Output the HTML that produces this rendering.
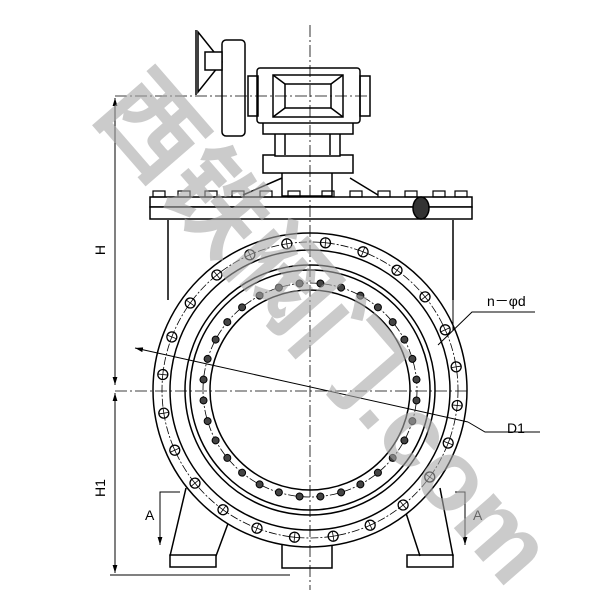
<!DOCTYPE html>
<html><head><meta charset="utf-8"><style>html,body{margin:0;padding:0;background:#fff}svg{display:block}</style></head>
<body>
<svg width="600" height="600" viewBox="0 0 600 600" xmlns="http://www.w3.org/2000/svg">
<defs>
<marker id="ar" viewBox="0 0 10 10" refX="10" refY="5" markerWidth="8" markerHeight="8" orient="auto-start-reverse"><path d="M0,2 L10,5 L0,8 z" fill="#000"/></marker>
<g id="ob"><circle cx="458" cy="390" r="5" fill="#fff" stroke="#000" stroke-width="1.3"/><path d="M453,390 H463 M458,385 V395" stroke="#000" stroke-width="0.8"/></g>
<circle id="ib" cx="417" cy="390" r="3.5" fill="#444" stroke="#000" stroke-width="1"/>
</defs>
<g fill="none" stroke="#000" stroke-width="1.5">
<path d="M168,220 V300 M453,220 V300"/>
<rect x="150" y="197" width="322" height="10" fill="#fff"/>
<rect x="150" y="207" width="322" height="12" fill="#fff"/>
<path d="M243,195 L282,178 M378,195 L350,178"/>
<rect x="282" y="170" width="50" height="26" fill="#fff"/>
<rect x="263" y="155" width="90" height="18" fill="#fff"/>
<rect x="275" y="122" width="65" height="34" fill="#fff"/>
<path d="M285,122 V155 M330,122 V155"/>
<rect x="263" y="122" width="90" height="12" fill="#fff"/>
<rect x="257" y="68" width="103" height="55" rx="3" fill="#fff"/>
<rect x="248" y="76" width="10" height="40"/>
<rect x="360" y="76" width="10" height="40"/>
<rect x="273" y="75" width="70" height="42"/>
<rect x="285" y="84" width="46" height="24"/>
<path d="M273,75 L285,84 M343,75 L331,84 M273,117 L285,108 M343,117 L331,108"/>
<rect x="222" y="40" width="23" height="96" rx="4" fill="#fff"/>
<path d="M198,32 L222,62 L198,92 Z M196,30 V95"/>
<rect x="205" y="52" width="17" height="18" fill="#fff"/>
<g stroke-width="1.2">
<rect x="153" y="191" width="12" height="6"/><rect x="178" y="191" width="12" height="6"/><rect x="205" y="191" width="12" height="6"/><rect x="232" y="191" width="12" height="6"/><rect x="260" y="191" width="12" height="6"/><rect x="288" y="191" width="12" height="6"/><rect x="322" y="191" width="12" height="6"/><rect x="350" y="191" width="12" height="6"/><rect x="378" y="191" width="12" height="6"/><rect x="405" y="191" width="12" height="6"/><rect x="433" y="191" width="12" height="6"/><rect x="455" y="191" width="12" height="6"/>
</g>
<ellipse cx="421" cy="208" rx="8" ry="11" fill="#333"/>
<path d="M186,488 L170,556 M233,510 L216,556 M405,510 L420,556 M440,488 L453,556"/>
<rect x="170" y="555" width="46" height="12"/><rect x="407" y="555" width="46" height="12"/>
<rect x="282" y="544" width="50" height="24"/>
<circle cx="310" cy="390" r="157" fill="#fff"/>
<circle cx="310" cy="390" r="140"/>
<circle cx="310" cy="390" r="125"/>
<circle cx="310" cy="390" r="120"/>
<circle cx="310" cy="390" r="100"/>
</g>
<circle cx="310" cy="390" r="148" fill="none" stroke="#000" stroke-width="0.8" stroke-dasharray="8,2,2,2"/>
<circle cx="310" cy="390" r="107" fill="none" stroke="#000" stroke-width="0.8" stroke-dasharray="8,2,2,2"/>
<g>
<use href="#ob" transform="rotate(6 310 390)"/><use href="#ob" transform="rotate(21 310 390)"/><use href="#ob" transform="rotate(36 310 390)"/><use href="#ob" transform="rotate(51 310 390)"/><use href="#ob" transform="rotate(66 310 390)"/><use href="#ob" transform="rotate(81 310 390)"/><use href="#ob" transform="rotate(96 310 390)"/><use href="#ob" transform="rotate(111 310 390)"/><use href="#ob" transform="rotate(126 310 390)"/><use href="#ob" transform="rotate(141 310 390)"/><use href="#ob" transform="rotate(156 310 390)"/><use href="#ob" transform="rotate(171 310 390)"/><use href="#ob" transform="rotate(186 310 390)"/><use href="#ob" transform="rotate(201 310 390)"/><use href="#ob" transform="rotate(216 310 390)"/><use href="#ob" transform="rotate(231 310 390)"/><use href="#ob" transform="rotate(246 310 390)"/><use href="#ob" transform="rotate(261 310 390)"/><use href="#ob" transform="rotate(276 310 390)"/><use href="#ob" transform="rotate(291 310 390)"/><use href="#ob" transform="rotate(306 310 390)"/><use href="#ob" transform="rotate(321 310 390)"/><use href="#ob" transform="rotate(336 310 390)"/><use href="#ob" transform="rotate(351 310 390)"/>
</g>
<g>
<use href="#ib" transform="rotate(5.6 310 390)"/><use href="#ib" transform="rotate(16.9 310 390)"/><use href="#ib" transform="rotate(28.1 310 390)"/><use href="#ib" transform="rotate(39.4 310 390)"/><use href="#ib" transform="rotate(50.6 310 390)"/><use href="#ib" transform="rotate(61.9 310 390)"/><use href="#ib" transform="rotate(73.1 310 390)"/><use href="#ib" transform="rotate(84.4 310 390)"/><use href="#ib" transform="rotate(95.6 310 390)"/><use href="#ib" transform="rotate(106.9 310 390)"/><use href="#ib" transform="rotate(118.1 310 390)"/><use href="#ib" transform="rotate(129.4 310 390)"/><use href="#ib" transform="rotate(140.6 310 390)"/><use href="#ib" transform="rotate(151.9 310 390)"/><use href="#ib" transform="rotate(163.1 310 390)"/><use href="#ib" transform="rotate(174.4 310 390)"/><use href="#ib" transform="rotate(185.6 310 390)"/><use href="#ib" transform="rotate(196.9 310 390)"/><use href="#ib" transform="rotate(208.1 310 390)"/><use href="#ib" transform="rotate(219.4 310 390)"/><use href="#ib" transform="rotate(230.6 310 390)"/><use href="#ib" transform="rotate(241.9 310 390)"/><use href="#ib" transform="rotate(253.1 310 390)"/><use href="#ib" transform="rotate(264.4 310 390)"/><use href="#ib" transform="rotate(275.6 310 390)"/><use href="#ib" transform="rotate(286.9 310 390)"/><use href="#ib" transform="rotate(298.1 310 390)"/><use href="#ib" transform="rotate(309.4 310 390)"/><use href="#ib" transform="rotate(320.6 310 390)"/><use href="#ib" transform="rotate(331.9 310 390)"/><use href="#ib" transform="rotate(343.1 310 390)"/><use href="#ib" transform="rotate(354.4 310 390)"/>
</g>
<g stroke="#000" stroke-width="0.8" stroke-dasharray="12,3,2,3" fill="none">
<path d="M310,25 V590"/>
<path d="M115,391 H470"/>
<path d="M115,96 H370"/>
</g>
<g stroke="#000" stroke-width="1" fill="none">
<path d="M115,98 V385" marker-start="url(#ar)" marker-end="url(#ar)"/>
<path d="M115,393 V573" marker-start="url(#ar)" marker-end="url(#ar)"/>
<path d="M110,575 H290"/>
<path d="M135,348 L468,422" marker-start="url(#ar)"/>
<path d="M468,422 L485,432 H540"/>
<path d="M438,345 L472,312 H535"/>
<path d="M453,220 V330"/>
<path d="M180,492 H160 V545" marker-end="url(#ar)"/>
<path d="M455,492 H465 V545" marker-end="url(#ar)"/>
</g>
<g font-family="Liberation Sans, sans-serif" font-size="14" fill="#000">
<text x="105" y="250" transform="rotate(-90 105 250)" text-anchor="middle">H</text>
<text x="105" y="488" transform="rotate(-90 105 488)" text-anchor="middle">H1</text>
<text x="507" y="433">D1</text>
<text x="487" y="306">n－φd</text>
<text x="145" y="520">A</text>
<text x="473" y="520">A</text>
</g>
<g fill="#a8a8a8" fill-opacity="0.6" font-family="Liberation Sans, 'Noto Sans CJK SC', sans-serif" font-weight="bold" font-size="100">
<text transform="translate(92,112) rotate(49)">西铁阀门.com</text>
</g>
</svg>
</body></html>
